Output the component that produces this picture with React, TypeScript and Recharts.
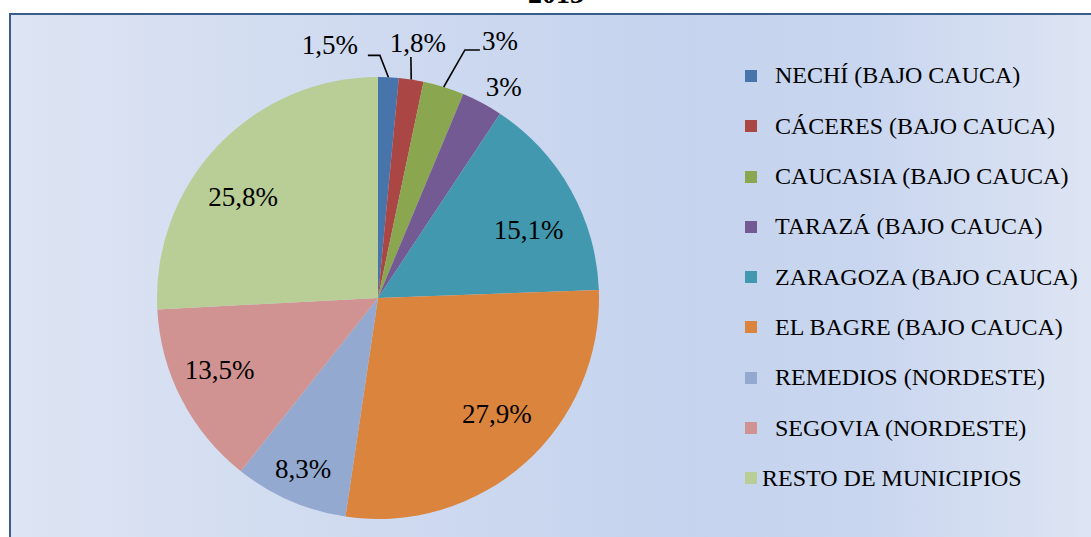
import React from 'react';
import { PieChart, Pie, Cell, Legend } from 'recharts';

const title = '2013';
const categories = [
  'NECHÍ (BAJO CAUCA)',
  'CÁCERES (BAJO CAUCA)',
  'CAUCASIA (BAJO CAUCA)',
  'TARAZÁ (BAJO CAUCA)',
  'ZARAGOZA (BAJO CAUCA)',
  'EL BAGRE (BAJO CAUCA)',
  'REMEDIOS (NORDESTE)',
  'SEGOVIA (NORDESTE)',
  'RESTO DE MUNICIPIOS',
];
const shares = [1.5, 1.8, 3, 3, 15.1, 27.9, 8.3, 13.5, 25.8];
const colors = [
  '#4674AB', '#AA4744', '#8AA64F', '#735A93', '#4198AF',
  '#DB843D', '#93A9CF', '#D19392', '#B9CD96',
];

// label layout (nudges relative to the computed radial anchor)
const labelNudges: number[][] = [
  [-60, -1], [2, -6], [47, -16], [7, 11],
  [4, 14], [7, -9], [-8, 17], [-9, -5], [-13, 15],
];
const leaderLines: Record<number, { elbow: number[]; end: number[] }> = {
  0: { elbow: [50, 10], end: [38, 10] },
  1: { elbow: [-7, 14], end: [-7, 14] },
  2: { elbow: [-35, 8.5], end: [-20, 8.5] },
};
const legendIndent = [18, 18, 18, 18, 18, 18, 18, 18, 5];

const FONT = '"Liberation Serif", "Times New Roman", serif';
const RAD = Math.PI / 180;

const pieData = categories.map((name, i) => ({ name, value: shares[i] }));

const fmt = (v: number) => String(v).replace('.', ',') + '%';

function renderLabel(props: any) {
  const { cx, cy, midAngle, outerRadius, index, value } = props;
  const small = value < 5;
  const r = outerRadius * (small ? 1.14 : 0.76);
  const cos = Math.cos(-midAngle * RAD);
  const sin = Math.sin(-midAngle * RAD);
  const n = labelNudges[index] || [0, 0];
  const lx = cx + r * cos + n[0];
  const ly = cy + r * sin + n[1];
  const leader = leaderLines[index];
  let line = null;
  if (leader) {
    const sx = cx + outerRadius * cos;
    const sy = cy + outerRadius * sin;
    const pts = `${sx},${sy} ${lx + leader.elbow[0]},${ly + leader.elbow[1]} ${lx + leader.end[0]},${ly + leader.end[1]}`;
    line = <polyline points={pts} fill="none" stroke="#000" strokeWidth={1.6} />;
  }
  return (
    <g key={`lbl-${index}`}>
      {line}
      <text
        x={lx}
        y={ly}
        textAnchor="middle"
        dominantBaseline="central"
        fontFamily={FONT}
        fontSize={27}
        fill="#000"
      >
        {fmt(value)}
      </text>
    </g>
  );
}

const renderLegend = () => (
  <div style={{ display: 'flex', flexDirection: 'column', fontFamily: FONT, fontSize: 24, color: '#000' }}>
    {categories.map((c, i) => (
      <div key={c} style={{ height: 50.3, display: 'flex', alignItems: 'center' }}>
        <span style={{ width: 12, height: 12, background: colors[i], display: 'inline-block', flex: 'none' }} />
        <span style={{ marginLeft: legendIndent[i], whiteSpace: 'nowrap', lineHeight: 'normal' }}>{c}</span>
      </div>
    ))}
  </div>
);

export default function App() {
  return (
    <div style={{ position: 'absolute', left: 0, top: 0, width: 1091, height: 537, background: '#fff', overflow: 'hidden' }}>
      <div
        style={{
          position: 'absolute',
          left: 0,
          width: 1112,
          textAlign: 'center',
          top: -20,
          fontFamily: FONT,
          fontSize: 28,
          fontWeight: 'bold',
          lineHeight: '28px',
          color: '#000',
        }}
      >
        {title}
      </div>
      <div
        style={{
          position: 'absolute',
          left: 9,
          top: 13,
          width: 1100,
          height: 560,
          borderTop: '2px solid #385D8A',
          borderLeft: '2px solid #385D8A',
          background: 'linear-gradient(90deg, #dde4f3 0%, #d0dbf0 30%, #c5d3ee 62%, #c9d6ef 78%, #dfe6f4 100%)',
        }}
      />
      <div style={{ position: 'absolute', left: 0, top: 0 }}>
        <PieChart width={1091} height={537} margin={{ top: 0, right: 0, bottom: 0, left: 0 }}>
          <Pie
            data={pieData}
            dataKey="value"
            nameKey="name"
            cx={378}
            cy={298}
            outerRadius={221}
            startAngle={90}
            endAngle={-270}
            stroke="none"
            label={renderLabel}
            labelLine={false}
            isAnimationActive={false}
          >
            {pieData.map((d, i) => (
              <Cell key={d.name} fill={colors[i]} />
            ))}
          </Pie>
          <Legend
            content={renderLegend}
            layout="vertical"
            align="right"
            verticalAlign="top"
            wrapperStyle={{ position: 'absolute', left: 745, top: 50.85, width: 340, right: 'auto', bottom: 'auto' }}
          />
        </PieChart>
      </div>
    </div>
  );
}
